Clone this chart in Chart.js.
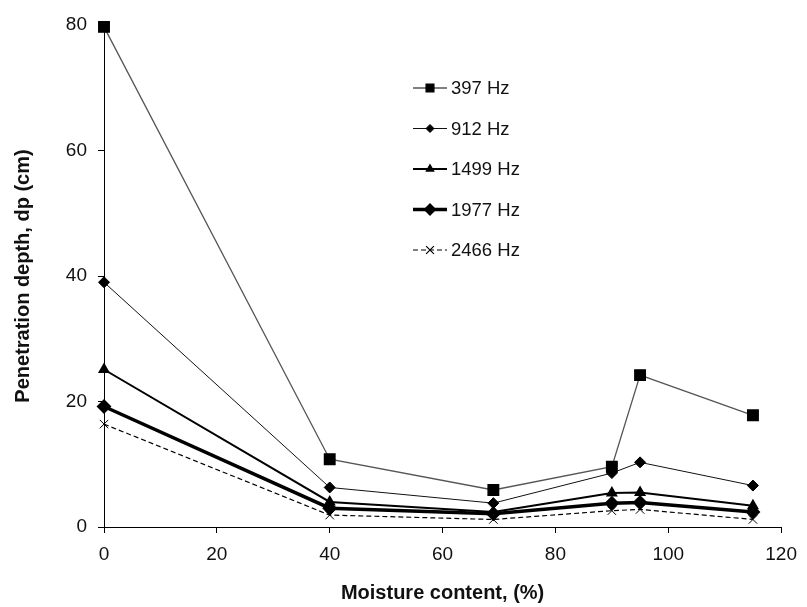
<!DOCTYPE html>
<html>
<head>
<meta charset="utf-8">
<script src="https://cdn.jsdelivr.net/npm/chart.js@4.4.1/dist/chart.umd.min.js"></script>
<style>
  html, body { margin: 0; padding: 0; background: #fff; }
  #wrap { width: 807px; height: 607px; }
</style>
</head>
<body>
<div id="wrap"><canvas id="depthChart" width="807" height="607"></canvas></div>
<script>
// Moisture content (%) - x positions
const moisture = [0, 40, 69, 90, 95, 115];

// Penetration depth (cm) for each frequency
const hz397  = [79.7, 10.8, 5.9, 9.6, 24.2, 17.8];
const hz912  = [39.0, 6.3, 3.8, 8.6, 10.3, 6.6];
const hz1499 = [25.1, 4.0, 2.4, 5.4, 5.5, 3.4];
const hz1977 = [19.2, 3.0, 2.1, 3.8, 3.9, 2.4];
const hz2466 = [16.4, 1.9, 1.2, 2.6, 2.8, 1.2];

const seriesNames = ['397 Hz', '912 Hz', '1499 Hz', '1977 Hz', '2466 Hz'];

const xTicks = [0, 20, 40, 60, 80, 100, 120];
const yTicks = [0, 20, 40, 60, 80];

const toPoints = (vals) => vals.map((v, i) => ({ x: moisture[i], y: v }));

// legend drawn inside the plot, line sample + marker + text
const insideLegend = {
  id: 'insideLegend',
  afterDraw(chart) {
    const ctx = chart.ctx;
    const x0 = 413, x1 = 447, tx = 451;
    const y0 = 88, gap = 40.5;
    chart.data.datasets.forEach((ds, i) => {
      const y = y0 + i * gap;
      ctx.save();
      ctx.strokeStyle = ds.borderColor;
      ctx.lineWidth = ds.borderWidth;
      ctx.setLineDash(ds.borderDash || []);
      ctx.beginPath();
      ctx.moveTo(x0, y);
      ctx.lineTo(x1, y);
      ctx.stroke();
      ctx.setLineDash([]);
      ctx.fillStyle = '#000';
      ctx.strokeStyle = '#000';
      Chart.helpers.drawPoint(ctx, {
        pointStyle: ds.pointStyle,
        radius: ds.legendRadius,
        rotation: 0,
        borderWidth: 1
      }, (x0 + x1) / 2, y);
      ctx.font = '18.5px "Liberation Sans", Arial, sans-serif';
      ctx.textBaseline = 'middle';
      ctx.textAlign = 'left';
      ctx.fillStyle = '#111';
      ctx.fillText(ds.label, tx, y + 1);
      ctx.restore();
    });
  }
};

const ctx = document.getElementById('depthChart');
new Chart(ctx, {
  type: 'line',
  data: {
    datasets: [
      {
        label: seriesNames[0], data: toPoints(hz397),
        borderColor: '#555', borderWidth: 1.3,
        pointStyle: 'rect', pointRadius: 7.5, legendRadius: 5.5,
        pointBackgroundColor: '#000', pointBorderColor: '#000'
      },
      {
        label: seriesNames[1], data: toPoints(hz912),
        borderColor: '#111', borderWidth: 1,
        pointStyle: 'rectRot', pointRadius: 5.5, legendRadius: 4,
        pointBackgroundColor: '#000', pointBorderColor: '#000'
      },
      {
        label: seriesNames[2], data: toPoints(hz1499),
        borderColor: '#000', borderWidth: 2,
        pointStyle: 'triangle', pointRadius: 5, legendRadius: 3.5,
        pointBackgroundColor: '#000', pointBorderColor: '#000'
      },
      {
        label: seriesNames[3], data: toPoints(hz1977),
        borderColor: '#000', borderWidth: 3.5,
        pointStyle: 'rectRot', pointRadius: 5, legendRadius: 4,
        pointBackgroundColor: '#000', pointBorderColor: '#000'
      },
      {
        label: seriesNames[4], data: toPoints(hz2466),
        borderColor: '#000', borderWidth: 1.2, borderDash: [5, 3],
        pointStyle: 'crossRot', pointRadius: 6, legendRadius: 5.5,
        pointBackgroundColor: '#000', pointBorderColor: '#000', pointBorderWidth: 1
      }
    ]
  },
  options: {
    responsive: false,
    animation: false,
    clip: false,
    layout: { padding: { left: 0, right: 17, top: 25, bottom: 0 } },
    elements: { line: { tension: 0 } },
    plugins: {
      legend: { display: false },
      tooltip: { enabled: false }
    },
    scales: {
      x: {
        type: 'linear',
        min: 0, max: 120,
        afterBuildTicks: (s) => { s.ticks = xTicks.map(v => ({ value: v })); },
        afterFit: (s) => { s.height = 80; },
        border: { display: true, color: '#000', width: 1 },
        grid: { drawOnChartArea: false, drawTicks: true, tickLength: 6, color: '#000' },
        ticks: { color: '#111', padding: 10, font: { family: '"Liberation Sans", Arial, sans-serif', size: 19 } },
        title: {
          display: true, text: 'Moisture content, (%)', color: '#111',
          padding: { top: 0, bottom: 2 },
          font: { family: '"Liberation Sans", Arial, sans-serif', size: 20, weight: 'bold' }
        }
      },
      y: {
        type: 'linear',
        min: 0, max: 80,
        afterBuildTicks: (s) => { s.ticks = yTicks.map(v => ({ value: v })); },
        afterFit: (s) => { s.width = 104; },
        border: { display: true, color: '#000', width: 1 },
        grid: { drawOnChartArea: false, drawTicks: true, tickLength: 6, color: '#000' },
        ticks: { color: '#111', padding: 11, font: { family: '"Liberation Sans", Arial, sans-serif', size: 19 } },
        title: {
          display: true, text: 'Penetration depth, dp (cm)', color: '#111',
          padding: { top: 11, bottom: 0 },
          font: { family: '"Liberation Sans", Arial, sans-serif', size: 20, weight: 'bold' }
        }
      }
    }
  },
  plugins: [insideLegend]
});
</script>
</body>
</html>
